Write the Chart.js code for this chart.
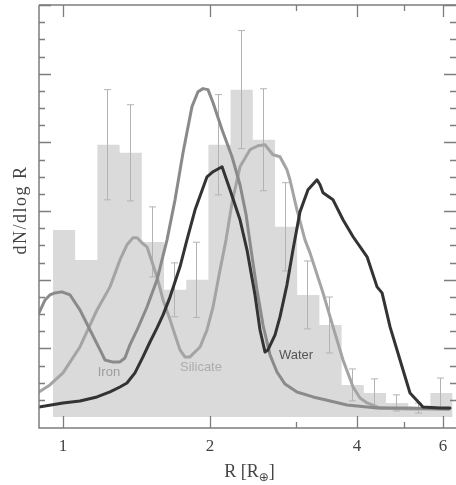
<!DOCTYPE html>
<html>
<head>
<meta charset="utf-8">
<script src="https://cdn.jsdelivr.net/npm/chart.js@4.4.1/dist/chart.umd.min.js"></script>
<style>
  html, body { margin: 0; padding: 0; background: #fff; }
  canvas { display: block; }
</style>
</head>
<body>
<canvas id="myChart" width="456" height="485"></canvas>
<script>
// histogram of planet radii (R in earth radii, log spaced bins)
const binEdges = [0.954, 1.059, 1.176, 1.306, 1.450, 1.610, 1.788, 1.985, 2.204, 2.447, 2.718, 3.017, 3.350, 3.720, 4.130, 4.586, 5.092, 5.654, 6.279];
const binCounts = [10.90, 9.15, 15.86, 15.39, 10.20, 7.41, 7.99, 15.86, 19.07, 16.15, 11.08, 7.11, 5.36, 1.87, 1.40, 0.82, 0.52, 1.40];
const binErrors = [null, null, 3.21, 2.80, 2.04, 1.57, 2.19, 2.92, 3.44, 2.97, 2.57, 1.98, 1.63, 0.93, 0.82, 0.47, 0.29, 0.87];

// model curves
const ironR = [0.893, 0.919, 0.940, 0.963, 0.995, 1.034, 1.083, 1.136, 1.191, 1.219, 1.260, 1.308, 1.339, 1.371, 1.418, 1.486, 1.558, 1.633, 1.696, 1.761, 1.837, 1.890, 1.935, 1.981, 2.029, 2.117, 2.219, 2.304, 2.371, 2.427, 2.496, 2.568, 2.654, 2.743, 2.849, 3.014, 3.251, 3.457, 3.816, 4.397, 5.112, 6.173];
const ironN = [6.06, 6.82, 7.11, 7.23, 7.29, 7.11, 6.24, 5.07, 3.91, 3.32, 3.21, 3.21, 3.44, 4.20, 5.07, 6.41, 7.99, 10.32, 12.65, 15.39, 18.08, 18.95, 19.13, 19.07, 18.31, 16.73, 15.16, 13.53, 11.78, 9.74, 7.41, 5.36, 3.62, 2.62, 1.92, 1.46, 1.17, 0.99, 0.70, 0.52, 0.52, 0.47];

const silicateR = [0.893, 0.940, 1.000, 1.083, 1.174, 1.248, 1.308, 1.352, 1.391, 1.418, 1.458, 1.486, 1.529, 1.558, 1.603, 1.657, 1.696, 1.736, 1.777, 1.820, 1.908, 1.972, 2.029, 2.097, 2.157, 2.219, 2.304, 2.415, 2.508, 2.592, 2.692, 2.782, 2.875, 2.916, 3.014, 3.130, 3.205, 3.408, 3.573, 3.745, 3.927, 4.058, 4.195, 4.460, 5.112, 6.173];
const silicateN = [1.46, 1.87, 2.57, 4.08, 6.24, 7.58, 9.15, 10.03, 10.44, 10.44, 10.09, 9.91, 8.86, 8.16, 6.82, 5.66, 4.78, 3.91, 3.50, 3.50, 4.08, 5.07, 6.41, 8.57, 10.32, 12.48, 14.58, 15.57, 15.80, 15.86, 15.28, 15.16, 14.40, 13.82, 12.07, 10.32, 9.56, 7.23, 5.25, 3.32, 1.75, 1.11, 0.82, 0.52, 0.47, 0.47];

const waterR = [0.893, 1.000, 1.083, 1.174, 1.248, 1.308, 1.352, 1.404, 1.458, 1.507, 1.558, 1.603, 1.657, 1.736, 1.794, 1.864, 1.972, 2.029, 2.117, 2.198, 2.304, 2.381, 2.473, 2.532, 2.592, 2.629, 2.718, 2.782, 2.875, 2.958, 3.057, 3.175, 3.313, 3.360, 3.408, 3.573, 3.745, 3.927, 4.195, 4.397, 4.502, 4.675, 4.900, 5.136, 5.461, 5.917, 6.202];
const waterN = [0.58, 0.82, 0.93, 1.17, 1.46, 1.75, 1.98, 2.57, 3.50, 4.37, 5.19, 5.95, 7.00, 8.75, 10.32, 12.07, 13.99, 14.29, 14.58, 13.24, 11.49, 9.74, 7.11, 5.07, 3.79, 3.91, 4.78, 5.83, 7.70, 9.74, 11.95, 13.24, 13.82, 13.53, 13.06, 12.65, 11.49, 10.50, 9.33, 7.58, 7.23, 5.25, 3.32, 1.40, 0.58, 0.52, 0.52];

// axis ticks
const xTicks = [1, 2, 3, 4, 5, 6];
const xTickLabels = ['1', '2', '', '4', '', '6'];

// text labels next to the curves
const curveLabels = [
  { text: 'Iron', r: 1.242, n: 2.57, color: '#9c9c9c' },
  { text: 'Silicate', r: 1.917, n: 2.86, color: '#adadad' },
  { text: 'Water', r: 3.0, n: 3.56, color: '#555555' }
];

const toPoints = (xs, ys) => xs.map((r, i) => ({ x: r, y: ys[i] }));
const histPoints = binEdges.map((e, i) => ({ x: e, y: binCounts[Math.min(i, binCounts.length - 1)] }));

const curve = (label, xs, ys, color, order) => ({
  label, data: toPoints(xs, ys), borderColor: color, borderWidth: 3,
  pointRadius: 0, fill: false, order, borderJoinStyle: 'round', borderCapStyle: 'round'
});

const HIST = 3;

// error bars, frame, inward ticks, titles
const framePlugin = {
  id: 'framePlugin',
  afterDatasetDraw(chart, args) {
    if (args.index !== HIST) return;
    const { ctx, scales: { x, y } } = chart;
    ctx.save();
    ctx.strokeStyle = '#b3b3b3';
    ctx.lineWidth = 1;
    binErrors.forEach((e, i) => {
      if (e == null) return;
      const px = Math.round(x.getPixelForValue(Math.sqrt(binEdges[i] * binEdges[i + 1]))) - 0.5;
      const top = y.getPixelForValue(binCounts[i] + e);
      const bot = y.getPixelForValue(binCounts[i] - e);
      ctx.beginPath();
      ctx.moveTo(px, top); ctx.lineTo(px, bot);
      ctx.moveTo(px - 3.5, top); ctx.lineTo(px + 3.5, top);
      ctx.moveTo(px - 3.5, bot); ctx.lineTo(px + 3.5, bot);
      ctx.stroke();
    });
    ctx.restore();
  },
  afterDatasetsDraw(chart) {
    const { ctx, scales: { x, y } } = chart;
    ctx.save();
    ctx.font = '13px "Liberation Sans", Arial, sans-serif';
    ctx.textAlign = 'center';
    ctx.textBaseline = 'middle';
    curveLabels.forEach(l => {
      ctx.fillStyle = l.color;
      ctx.fillText(l.text, x.getPixelForValue(l.r), y.getPixelForValue(l.n));
    });
    ctx.restore();
  },
  afterDraw(chart) {
    const { ctx, chartArea: a, scales: { x, y } } = chart;
    ctx.save();
    ctx.strokeStyle = '#7d7d7d';
    ctx.lineWidth = 1.5;
    ctx.beginPath();
    ctx.moveTo(a.left, a.top); ctx.lineTo(a.right, a.top);
    ctx.moveTo(a.left, a.top); ctx.lineTo(a.left, a.bottom); ctx.lineTo(a.right, a.bottom);
    ctx.stroke();

    // y ticks, left and right, every unit, long every 4
    ctx.lineWidth = 1.3;
    ctx.beginPath();
    y.ticks.forEach(t => {
      const v = t.value;
      if (v < 0 || Math.abs(v - Math.round(v)) > 1e-6) return;
      const py = Math.round(y.getPixelForValue(v)) + 0.5;
      const len = Math.round(v) % 4 === 0 ? 12 : 6;
      ctx.moveTo(a.left, py); ctx.lineTo(a.left + len, py);
      ctx.moveTo(a.right, py); ctx.lineTo(a.right - len, py);
    });
    // x ticks, top and bottom
    xTicks.forEach((v, i) => {
      const px = Math.round(x.getPixelForValue(v)) + 0.5;
      const len = xTickLabels[i] ? 12 : 6;
      ctx.moveTo(px, a.top); ctx.lineTo(px, a.top + len);
      ctx.moveTo(px, a.bottom); ctx.lineTo(px, a.bottom - len);
    });
    ctx.stroke();

    // x tick labels
    ctx.fillStyle = '#444';
    ctx.font = '17px "Liberation Serif", "DejaVu Serif", serif';
    ctx.textAlign = 'center';
    ctx.textBaseline = 'middle';
    xTicks.forEach((v, i) => {
      if (xTickLabels[i]) ctx.fillText(xTickLabels[i], x.getPixelForValue(v), a.bottom + 19);
    });

    // x title: R [R_earth]
    const mainFont = '18px "Liberation Serif", "DejaVu Serif", serif';
    const subFont = '12px "DejaVu Sans", sans-serif';
    ctx.textAlign = 'left';
    ctx.textBaseline = 'alphabetic';
    ctx.font = mainFont;
    const w1 = ctx.measureText('R [R').width;
    const w3 = ctx.measureText(']').width;
    ctx.font = subFont;
    const w2 = ctx.measureText('\u2295').width;
    let sx = (a.left + a.right) / 2 + 2 - (w1 + w2 + w3) / 2;
    ctx.font = mainFont;
    ctx.fillText('R [R', sx, 477);
    ctx.font = subFont;
    ctx.fillText('\u2295', sx + w1, 481);
    ctx.font = mainFont;
    ctx.fillText(']', sx + w1 + w2, 477);

    // y title
    ctx.translate(21, 210);
    ctx.rotate(-Math.PI / 2);
    ctx.font = '18px "Liberation Serif", "DejaVu Serif", serif';
    ctx.textAlign = 'center';
    ctx.textBaseline = 'middle';
    ctx.letterSpacing = '1.5px';
    ctx.fillText('dN/dlog R', 0, 0);
    ctx.restore();
  }
};

const data = {
  datasets: [
    curve('Water', waterR, waterN, '#333333', 1),
    curve('Iron', ironR, ironN, '#8a8a8a', 2),
    curve('Silicate', silicateR, silicateN, '#a4a4a4', 3),
    {
      label: 'observed', data: histPoints, stepped: true, fill: 'origin',
      backgroundColor: '#dadada', borderColor: '#dadada', borderWidth: 0,
      pointRadius: 0, order: 4
    }
  ]
};

const config = {
  type: 'line',
  data,
  options: {
    responsive: false,
    animation: false,
    devicePixelRatio: 1,
    layout: { padding: { left: 39, top: 5, right: 0, bottom: 57 } },
    plugins: { legend: { display: false }, tooltip: { enabled: false } },
    scales: {
      x: {
        type: 'logarithmic', min: 0.893, max: 6.38, display: false,
        afterBuildTicks: s => { s.ticks = xTicks.map(v => ({ value: v })); }
      },
      y: { type: 'linear', min: -0.64, max: 24, display: false, ticks: { stepSize: 1 } }
    }
  },
  plugins: [framePlugin]
};

const myChart = new Chart(document.getElementById('myChart'), config);
</script>
</body>
</html>
